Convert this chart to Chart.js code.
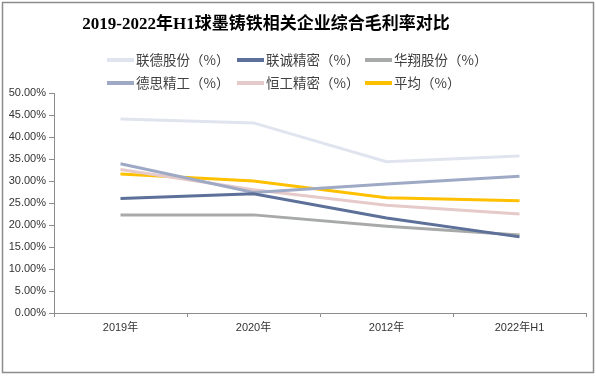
<!DOCTYPE html>
<html lang="zh">
<head>
<meta charset="UTF-8">
<title>毛利率对比</title>
<script src="https://cdn.jsdelivr.net/npm/chart.js"></script>
<style>
  body { margin: 0; background: #fff; }
  #wrap { width: 596px; height: 377px; position: relative; }
</style>
</head>
<body>
<div id="wrap"><canvas id="c" width="596" height="377"></canvas></div>
<script>
// 数据
const categories = ["2019年", "2020年", "2012年", "2022年H1"];
const seriesNames = ["联德股份（%）", "联诚精密（%）", "华翔股份（%）", "德思精工（%）", "恒工精密（%）", "平均（%）"];
const lianDe    = [44.1, 43.2, 34.4, 35.7];
const lianCheng = [26.0, 27.1, 21.6, 17.3];
const huaXiang  = [22.3, 22.3, 19.7, 17.7];
const deSi      = [33.9, 27.4, 29.3, 31.1];
const hengGong  = [32.6, 28.0, 24.5, 22.5];
const pingJun   = [31.6, 30.0, 26.2, 25.5];
const yTicks = [0, 5, 10, 15, 20, 25, 30, 35, 40, 45, 50];

const colors = ["#dfe4ef", "#5d7099", "#a7aaa8", "#9eaac5", "#e6c9c9", "#ffc000"];
const values = [lianDe, lianCheng, huaXiang, deSi, hengGong, pingJun];

// 自绘标题、图例、外框
const decor = {
  id: "decor",
  afterDraw(chart) {
    const ctx = chart.ctx;
    ctx.save();
    ctx.strokeStyle = "#8c8c8c";
    ctx.lineWidth = 1.5;
    ctx.strokeRect(2.5, 2.5, 591, 370);

    ctx.fillStyle = "#000";
    ctx.font = "bold 17px 'Liberation Serif', 'Noto Sans CJK SC', serif";
    ctx.textAlign = "center";
    ctx.textBaseline = "middle";
    ctx.fillText("2019-2022年H1球墨铸铁相关企业综合毛利率对比", 266, 25);

    const cols = [107, 237, 365];
    const rows = [60, 83];
    ctx.font = "13.5px 'Noto Sans CJK SC', sans-serif";
    ctx.textAlign = "left";
    chart.data.datasets.forEach((ds, i) => {
      const x = cols[i % 3], y = rows[Math.floor(i / 3)];
      ctx.strokeStyle = ds.borderColor;
      ctx.lineWidth = 4;
      ctx.beginPath();
      ctx.moveTo(x, y);
      ctx.lineTo(x + 27, y);
      ctx.stroke();
      ctx.fillStyle = "#404040";
      ctx.fillText(ds.label, x + 29, y);
    });
    ctx.restore();
  }
};

new Chart(document.getElementById("c"), {
  type: "line",
  data: {
    labels: categories,
    datasets: seriesNames.map((name, i) => ({
      label: name,
      data: values[i],
      borderColor: colors[i],
      backgroundColor: colors[i],
      borderWidth: 3,
      pointRadius: 0,
      tension: 0,
      fill: false
    }))
  },
  options: {
    responsive: false,
    animation: false,
    layout: { padding: { top: 93, right: 10, bottom: 0, left: 0 } },
    plugins: { legend: { display: false }, title: { display: false }, tooltip: { enabled: false } },
    scales: {
      x: {
        offset: true,
        grid: { display: true, drawOnChartArea: false, tickLength: 4, color: "#8c8c8c", offset: true },
        border: { color: "#8c8c8c", width: 1 },
        ticks: { color: "#333", font: { family: "'Liberation Sans', 'Noto Sans CJK SC', sans-serif", size: 11 }, padding: 4 },
        afterFit: s => { s.height = 64; }
      },
      y: {
        min: 0, max: 50,
        afterBuildTicks: s => { s.ticks = yTicks.map(v => ({ value: v })); },
        grid: { display: true, drawOnChartArea: false, tickLength: 5, color: "#8c8c8c" },
        border: { color: "#8c8c8c", width: 1 },
        ticks: {
          color: "#333",
          font: { family: "'Liberation Sans', sans-serif", size: 11 },
          padding: 3,
          callback: v => v.toFixed(2) + "%"
        },
        afterFit: s => { s.width = 54; }
      }
    }
  },
  plugins: [decor]
});
</script>
</body>
</html>
